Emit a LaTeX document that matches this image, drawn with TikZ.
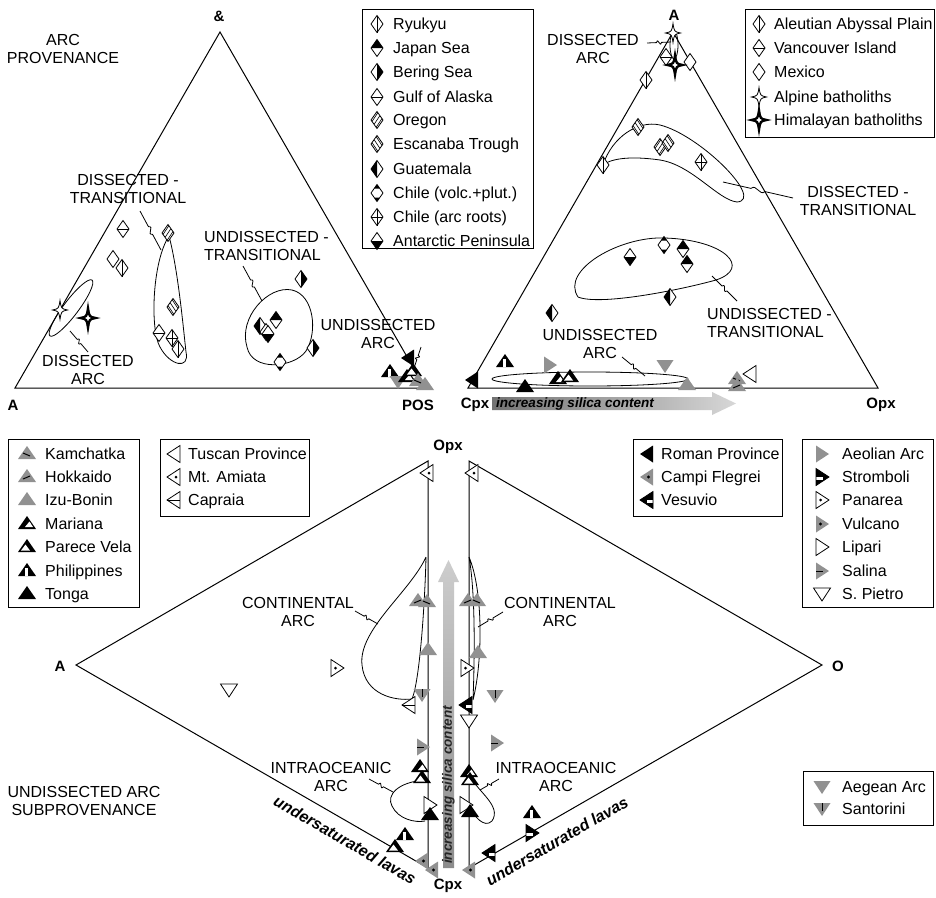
\documentclass[tikz,border=0pt]{standalone}
\usepackage{fontspec}
\setmainfont{Liberation Sans}
\usetikzlibrary{calc}
\definecolor{mgrey}{RGB}{145,145,145}
\newcommand\lgfont{\fontsize{16}{18}\selectfont}
\newcommand\axfont{\fontsize{15}{17}\selectfont\bfseries}
\newcommand\mrk[3]{\pic at (#2,#3) {#1};}
\newcommand\lgentry[6]{\pic at (#1,#3) {#4}; \node[lgtext] (#5) at (#2,#3) {#6};}
\newcommand\squig[2]{\draw[leaderline] (#1) -- ($(#1)!0.40!(#2)$) .. controls ($(#1)!0.46!(#2)!6pt!90:(#2)$) and ($(#1)!0.54!(#2)!6pt!-90:(#2)$) .. ($(#1)!0.60!(#2)$) -- (#2);}
\tikzset{
 mk/.style={line width=0.8pt, line join=miter},
 leaderline/.style={line width=0.8pt},
 axis/.style={line width=1pt},
 lbl/.style={align=center, font=\lgfont, inner sep=0pt},
 lgtext/.style={anchor=west, inner sep=0pt, font=\lgfont, text height=11.5pt, text depth=0pt},
 axl/.style={inner sep=0pt, font=\axfont},
 dmd/.style={insert path={(0,-8.5)--(6,0)--(0,8.5)--(-6,0)--cycle}},
 tup/.style={insert path={(-9,5)--(0,-8)--(9,5)--cycle}},
 tlf/.style={insert path={(-7,0)--(6,-8.5)--(6,8.5)--cycle}},
 trt/.style={insert path={(7,0)--(-6,-8.5)--(-6,8.5)--cycle}},
 tdn/.style={insert path={(-8.5,-6)--(8.5,-6)--(0,7)--cycle}},
 star/.style={insert path={(0,-9.5) .. controls (1.3,-1.3) .. (7.5,0) .. controls (1.3,1.3) .. (0,9.5) .. controls (-1.3,1.3) .. (-7.5,0) .. controls (-1.3,-1.3) .. (0,-9.5) -- cycle}},
 pics/dRy/.style={code={\draw[mk,fill=white,dmd]; \draw[mk] (0,-8.5)--(0,8.5);}},
 pics/dAl/.style={code={\draw[mk,fill=white,dmd]; \draw[mk] (0,-8.5)--(0,8.5);}},
 pics/dJS/.style={code={\fill[white,dmd]; \fill (-6,0)--(0,-8.5)--(6,0)--cycle; \draw[mk,dmd];}},
 pics/dAP/.style={code={\fill[white,dmd]; \fill (-6,0)--(0,8.5)--(6,0)--cycle; \draw[mk,dmd];}},
 pics/dBS/.style={code={\fill[white,dmd]; \fill (0,-8.5)--(6,0)--(0,8.5)--cycle; \draw[mk,dmd];}},
 pics/dGu/.style={code={\fill[white,dmd]; \fill (0,-8.5)--(-6,0)--(0,8.5)--cycle; \draw[mk,dmd];}},
 pics/dGA/.style={code={\draw[mk,fill=white,dmd]; \draw[mk] (-6,0)--(6,0);}},
 pics/dVI/.style={code={\draw[mk,fill=white,dmd]; \draw[mk] (-6,0)--(6,0);}},
 pics/dMx/.style={code={\draw[mk,fill=white,dmd];}},
 pics/dCA/.style={code={\draw[mk,fill=white,dmd]; \draw[mk] (-6,0)--(6,0) (0,-8.5)--(0,8.5);}},
 pics/dCV/.style={code={\fill[white,dmd]; \fill (-2.8,-4.5)--(0,-8.5)--(2.8,-4.5)--cycle; \fill (-2.8,4.5)--(0,8.5)--(2.8,4.5)--cycle; \draw[mk,dmd];}},
 pics/dOr/.style={code={\fill[white,dmd]; \begin{scope}\clip[dmd]; \foreach \k in {-12,-8,...,12} {\draw[line width=0.6pt] (\k-6,9)--(\k+6,-9);} \end{scope} \draw[mk,dmd];}},
 pics/dEs/.style={code={\fill[white,dmd]; \begin{scope}\clip[dmd]; \foreach \k in {-12,-8,...,12} {\draw[line width=0.6pt] (\k-6,-9)--(\k+6,9);} \end{scope} \draw[mk,dmd];}},
 pics/sAl/.style={code={\draw[mk,fill=white,star];}},
 pics/sHi/.style={code={\draw[line width=2.4pt,fill=white,star];}},
 pics/tKa/.style={code={\fill[mgrey,tup]; \draw[line width=1pt] (-4,-1)--(3,2);}},
 pics/tHo/.style={code={\fill[mgrey,tup]; \draw[line width=1pt] (-4,2)--(3,-1);}},
 pics/tIz/.style={code={\fill[mgrey,tup];}},
 pics/tMa/.style={code={\fill[tup]; \fill[white] (-2,3)--(2.5,-2.5)--(6,3)--cycle;}},
 pics/tPV/.style={code={\fill[tup]; \fill[white] (-6,3.5)--(-1.5,-2.5)--(3,3.5)--cycle;}},
 pics/tPh/.style={code={\fill[tup]; \fill[white] (-1.8,-3.5) rectangle (1.2,5);}},
 pics/tTo/.style={code={\fill[tup];}},
 pics/lTu/.style={code={\draw[mk,fill=white,tlf];}},
 pics/lMt/.style={code={\draw[mk,fill=white,tlf]; \fill (2,0) circle (1.5);}},
 pics/lCa/.style={code={\draw[mk,fill=white,tlf]; \draw[mk] (-7,0)--(6,0);}},
 pics/lRo/.style={code={\fill[tlf];}},
 pics/lCF/.style={code={\fill[mgrey,tlf]; \fill (1.5,0) circle (1.6);}},
 pics/lVe/.style={code={\fill[tlf]; \fill[white] (-0.5,0) rectangle (6,2.8); \draw[mk,tlf];}},
 pics/rAe/.style={code={\fill[mgrey,trt];}},
 pics/rSt/.style={code={\fill[trt]; \fill[white] (-6,0) rectangle (0.5,2.8); \draw[mk,trt];}},
 pics/rPa/.style={code={\draw[mk,fill=white,trt]; \fill (-1.5,0) circle (1.5);}},
 pics/rVu/.style={code={\fill[mgrey,trt]; \fill (-1.5,0) circle (1.6);}},
 pics/rLi/.style={code={\draw[mk,fill=white,trt];}},
 pics/rSa/.style={code={\fill[mgrey,trt]; \draw[line width=1pt] (-6,0)--(1,0);}},
 pics/vSP/.style={code={\draw[mk,fill=white,tdn];}},
 pics/vAe/.style={code={\fill[mgrey,tdn];}},
 pics/vSa/.style={code={\fill[mgrey,tdn]; \draw[line width=1pt] (0,-6)--(0,2);}},
}
\begin{document}
\begin{tikzpicture}[x=1pt,y=-1pt]
\useasboundingbox (0,0) rectangle (936,897);
\fill[white] (0,0) rectangle (936,897);

% ---------- axes ----------
\coordinate (a1) at (15,388); \coordinate (b1) at (220,32); \coordinate (c1) at (425,388);
\draw[axis] (a1)--(b1)--(c1)--cycle;
\coordinate (a2) at (468,388); \coordinate (b2) at (673,32); \coordinate (c2) at (878,388);
\draw[axis] (a2)--(b2)--(c2)--cycle;
\coordinate (a3) at (76,665); \coordinate (b3) at (428,461); \coordinate (c3) at (428,868);
\draw[axis] (a3)--(b3)--(c3)--cycle;
\coordinate (a4) at (822,665); \coordinate (b4) at (469,461); \coordinate (c4) at (469,868);
\draw[axis] (a4)--(b4)--(c4)--cycle;

% ---------- axis labels ----------
\node[axl] (amp) at (219,16) {\&};
\node[axl] (lA1) at (13,405) {A};
\node[axl] (lPOS) at (418,405) {POS};
\node[axl] (lA2) at (674,15) {A};
\node[axl] (lCpx2) at (475,405) {Cpx};
\node[axl] (lOpx2) at (881,405) {Opx};
\node[axl] (lA3) at (60,666) {A};
\node[axl] (lO4) at (838,666) {O};
\node[axl] (lOpx3) at (448,447) {Opx};
\node[axl] (lCpx3) at (448,886) {Cpx};

% ---------- arrows ----------
\shade[left color={rgb,255:red,115;green,115;blue,115}, right color={rgb,255:red,215;green,215;blue,215}]
 (492,397)--(712,397)--(712,392)--(736,403.5)--(712,415)--(712,410)--(492,410)--cycle;
\node[inner sep=0pt, font=\fontsize{13.5}{15}\selectfont\bfseries\itshape] (silH) at (575,404) {increasing silica content};
\shade[top color={rgb,255:red,205;green,205;blue,205}, bottom color={rgb,255:red,140;green,140;blue,140}]
 (443,868)--(443,582)--(438,582)--(448.5,560)--(459,582)--(454,582)--(454,868)--cycle;
\node[inner sep=0pt, rotate=90, text=black!85, font=\fontsize{13.5}{15}\selectfont\bfseries\itshape] (silV) at (448.5,785) {increasing silica content};

% ---------- fields ----------
\draw[leaderline, rotate around={53:(71,308)}] (71,308) ellipse (35 and 7.5);
\draw[leaderline] (169,236) .. controls (152,262) and (150,330) .. (160,347) .. controls (170,366) and (190,370) .. (186,352) .. controls (183,325) and (178,270) .. (169,236);
\draw[leaderline] (247,347) .. controls (238,318) and (268,285) .. (292,290) .. controls (314,295) and (318,332) .. (306,351) .. controls (294,368) and (252,372) .. (247,347);
\draw[leaderline] (674,45) ellipse (4 and 14);
\draw[leaderline] (603,165) .. controls (612,137) and (638,120) .. (660,125) .. controls (700,135) and (765,200) .. (737,202) .. controls (718,200) and (692,165) .. (660,160) .. controls (632,156) and (612,158) .. (603,165);
\draw[leaderline] (578,297) .. controls (560,270) and (620,236) .. (665,238) .. controls (725,240) and (752,268) .. (716,280) .. controls (680,290) and (600,306) .. (578,297);
\draw[leaderline] (590,379) ellipse (98 and 7);
\draw[leaderline] (426,557) .. controls (410,592) and (358,630) .. (362,665) .. controls (365,695) and (395,701) .. (412,699) .. controls (420,680) and (425,600) .. (426,557);
\draw[leaderline] (425,780) .. controls (398,782) and (386,795) .. (392,806) .. controls (398,819) and (415,823) .. (425,821);
\draw[leaderline] (469,557) .. controls (483,590) and (483,660) .. (473,700) .. controls (475,650) and (475,590) .. (469,557);
\draw[leaderline] (470,776) .. controls (478,792) and (502,806) .. (492,821) .. controls (484,829) and (474,815) .. (471,810);

% ---------- region labels ----------
\node[lbl] (arcprov) at (63,49) {ARC\\PROVENANCE};
\node[lbl] (t1dt) at (128,189) {DISSECTED -\\TRANSITIONAL};
\node[lbl, align=left, anchor=west] (t1ut) at (204,246) {UNDISSECTED -\\TRANSITIONAL};
\node[lbl] (t1ua) at (378,334) {UNDISSECTED\\ARC};
\node[lbl] (t1da) at (88,370) {DISSECTED\\ARC};
\node[lbl] (t2da) at (593,49) {DISSECTED\\ARC};
\node[lbl] (t2dt) at (858,201) {DISSECTED -\\TRANSITIONAL};
\node[lbl, align=left, anchor=west] (t2ut) at (707,323) {UNDISSECTED -\\TRANSITIONAL};
\node[lbl] (t2ua) at (600,344) {UNDISSECTED\\ARC};
\node[lbl] (lca) at (298,612) {CONTINENTAL\\ARC};
\node[lbl] (lia) at (331,777) {INTRAOCEANIC\\ARC};
\node[lbl] (rca) at (560,612) {CONTINENTAL\\ARC};
\node[lbl] (ria) at (556,777) {INTRAOCEANIC\\ARC};
\node[lbl] (usp) at (84,801) {UNDISSECTED ARC\\SUBPROVENANCE};
\node[inner sep=0pt, rotate=-30, font=\fontsize{16}{18}\selectfont\bfseries\itshape] (ulL) at (345,840) {undersaturated lavas};
\node[inner sep=0pt, rotate=30, font=\fontsize{16}{18}\selectfont\bfseries\itshape] (ulR) at (557,841) {undersaturated lavas};

% ---------- leaders ----------
\coordinate (s1) at (140,211); \coordinate (e1) at (161,250); \squig{s1}{e1}
\coordinate (s2) at (243,266); \coordinate (e2) at (262,301); \squig{s2}{e2}
\coordinate (s3) at (88,352); \coordinate (e3) at (70,331); \squig{s3}{e3}
\coordinate (s4) at (421,347); \coordinate (e4) at (414,368); \squig{s4}{e4}
\coordinate (s5) at (647,43); \coordinate (e5) at (671,42); \squig{s5}{e5}
\coordinate (s6) at (793,198); \coordinate (e6) at (723,182); \squig{s6}{e6}
\coordinate (s7) at (737,301); \coordinate (e7) at (712,276); \squig{s7}{e7}
\coordinate (s8) at (622,357); \coordinate (e8) at (645,376); \squig{s8}{e8}
\coordinate (s9) at (355,611); \coordinate (e9) at (378,624); \squig{s9}{e9}
\coordinate (s10) at (369,779); \coordinate (e10) at (393,792); \squig{s10}{e10}
\coordinate (s11) at (503,612); \coordinate (e11) at (478,627); \squig{s11}{e11}
\coordinate (s12) at (499,779); \coordinate (e12) at (480,790); \squig{s12}{e12}

% ---------- data: top-left ----------
\mrk{dGA}{123}{229} \mrk{dMx}{113}{259} \mrk{dRy}{122}{268}
\mrk{sAl}{60}{310} \mrk{sHi}{88}{318}
\mrk{dOr}{168}{233} \mrk{dEs}{173}{307} \mrk{dGA}{159}{333} \mrk{dCA}{172}{338} \mrk{dRy}{178}{349}
\mrk{dBS}{301}{279}
\mrk{dGu}{260}{326} \mrk{dMx}{266}{332} \mrk{dAP}{268}{334} \mrk{dJS}{276}{320}
\mrk{dBS}{313}{348} \mrk{dCV}{280}{362}
\mrk{tPh}{390}{372} \mrk{vAe}{398}{382} \mrk{lRo}{408}{358} \mrk{tIz}{425}{385}
\mrk{tMa}{407}{377} \mrk{tPV}{413}{371} \mrk{tKa}{418}{381}

% ---------- data: top-right ----------
\mrk{sAl}{673}{33} \mrk{dVI}{666}{57} \mrk{dMx}{690}{62} \mrk{sHi}{675}{65} \mrk{dAl}{646}{80}
\mrk{dEs}{638}{127} \mrk{dRy}{603}{165} \mrk{dOr}{660}{147} \mrk{dEs}{668}{143} \mrk{dCA}{701}{162}
\mrk{dAP}{630}{257} \mrk{dCV}{664}{245} \mrk{dJS}{683}{249} \mrk{dJS}{687}{264}
\mrk{dGu}{670}{297} \mrk{dGu}{552}{313}
\mrk{tPh}{505}{362} \mrk{lRo}{472}{380} \mrk{tTo}{525}{387} \mrk{rAe}{550}{365}
\mrk{tMa}{558}{379} \mrk{tPV}{570}{377} \mrk{vAe}{665}{366} \mrk{tIz}{687}{385}
\mrk{tKa}{737}{379} \mrk{tHo}{737}{386} \mrk{lTu}{750}{374}

% ---------- data: bottom-left ----------
\mrk{lMt}{427}{473}
\mrk{tHo}{418}{601} \mrk{tKa}{427}{602} \mrk{tIz}{428}{650}
\mrk{rPa}{337}{668} \mrk{vSP}{229}{690}
\mrk{vSa}{422}{695} \mrk{lCa}{409}{705}
\mrk{rSa}{423}{747}
\mrk{tMa}{420}{767} \mrk{tPV}{422}{778}
\mrk{rLi}{430}{805} \mrk{tTo}{430}{815}
\mrk{tPh}{405}{835} \mrk{tPV}{395}{847}
\mrk{lCF}{422}{861} \mrk{lCF}{432}{870}

% ---------- data: bottom-right ----------
\mrk{lMt}{472}{473}
\mrk{tHo}{468}{601} \mrk{tKa}{477}{601} \mrk{tIz}{478}{653}
\mrk{rPa}{467}{668} \mrk{vSa}{495}{696} \mrk{lVe}{466}{705} \mrk{vSP}{469}{721}
\mrk{rSa}{497}{743}
\mrk{tMa}{469}{772} \mrk{tPV}{470}{780}
\mrk{rLi}{466}{805} \mrk{tTo}{470}{812}
\mrk{tPh}{532}{813} \mrk{rSt}{532}{833}
\mrk{lVe}{489}{853} \mrk{lCF}{469}{870}

% ---------- legends ----------
\draw[line width=0.8pt] (362,9) rectangle (533,248);
\lgentry{377}{393}{24}{dRy}{gRy}{Ryukyu}
\lgentry{377}{393}{48}{dJS}{gJS}{Japan Sea}
\lgentry{377}{393}{72}{dBS}{gBS}{Bering Sea}
\lgentry{377}{393}{97}{dGA}{gGA}{Gulf of Alaska}
\lgentry{377}{393}{120}{dOr}{gOr}{Oregon}
\lgentry{377}{393}{144}{dEs}{gEs}{Escanaba Trough}
\lgentry{377}{393}{169}{dGu}{gGu}{Guatemala}
\lgentry{377}{393}{193}{dCV}{gCV}{Chile (volc.+plut.)}
\lgentry{377}{393}{217}{dCA}{gCA}{Chile (arc roots)}
\lgentry{377}{393}{241}{dAP}{gAP}{Antarctic Peninsula}

\draw[line width=0.8pt] (745,9) rectangle (934,137);
\lgentry{759}{774}{24}{dAl}{gAl}{Aleutian Abyssal Plain}
\lgentry{759}{774}{48}{dVI}{gVI}{Vancouver Island}
\lgentry{759}{774}{72}{dMx}{gMx}{Mexico}
\lgentry{759}{774}{97}{sAl}{gSA}{Alpine batholiths}
\lgentry{759}{774}{120}{sHi}{gSH}{Himalayan batholiths}

\draw[line width=0.8pt] (8,439) rectangle (139,607);
\lgentry{27}{45}{454}{tKa}{gKa}{Kamchatka}
\lgentry{27}{45}{477}{tHo}{gHo}{Hokkaido}
\lgentry{27}{45}{500}{tIz}{gIz}{Izu-Bonin}
\lgentry{27}{45}{524}{tMa}{gMa}{Mariana}
\lgentry{27}{45}{547}{tPV}{gPV}{Parece Vela}
\lgentry{27}{45}{571}{tPh}{gPh}{Philippines}
\lgentry{27}{45}{594}{tTo}{gTo}{Tonga}

\draw[line width=0.8pt] (160,439) rectangle (309,516);
\lgentry{174}{188}{454}{lTu}{gTu}{Tuscan Province}
\lgentry{174}{188}{477}{lMt}{gMt}{Mt. Amiata}
\lgentry{174}{188}{500}{lCa}{gCa}{Capraia}

\draw[line width=0.8pt] (633,439) rectangle (782,516);
\lgentry{647}{661}{454}{lRo}{gRo}{Roman Province}
\lgentry{647}{661}{477}{lCF}{gCF}{Campi Flegrei}
\lgentry{647}{661}{500}{lVe}{gVe}{Vesuvio}

\draw[line width=0.8pt] (802,439) rectangle (933,607);
\lgentry{822}{842}{454}{rAe}{gAe}{Aeolian Arc}
\lgentry{822}{842}{477}{rSt}{gSt}{Stromboli}
\lgentry{822}{842}{500}{rPa}{gPa}{Panarea}
\lgentry{822}{842}{524}{rVu}{gVu}{Vulcano}
\lgentry{822}{842}{547}{rLi}{gLi}{Lipari}
\lgentry{822}{842}{571}{rSa}{gSa}{Salina}
\lgentry{822}{842}{594}{vSP}{gSP}{S. Pietro}

\draw[line width=0.8pt] (803,771) rectangle (933,825);
\lgentry{822}{842}{787}{vAe}{gAA}{Aegean Arc}
\lgentry{822}{842}{809}{vSa}{gSn}{Santorini}
\end{tikzpicture}
\end{document}
